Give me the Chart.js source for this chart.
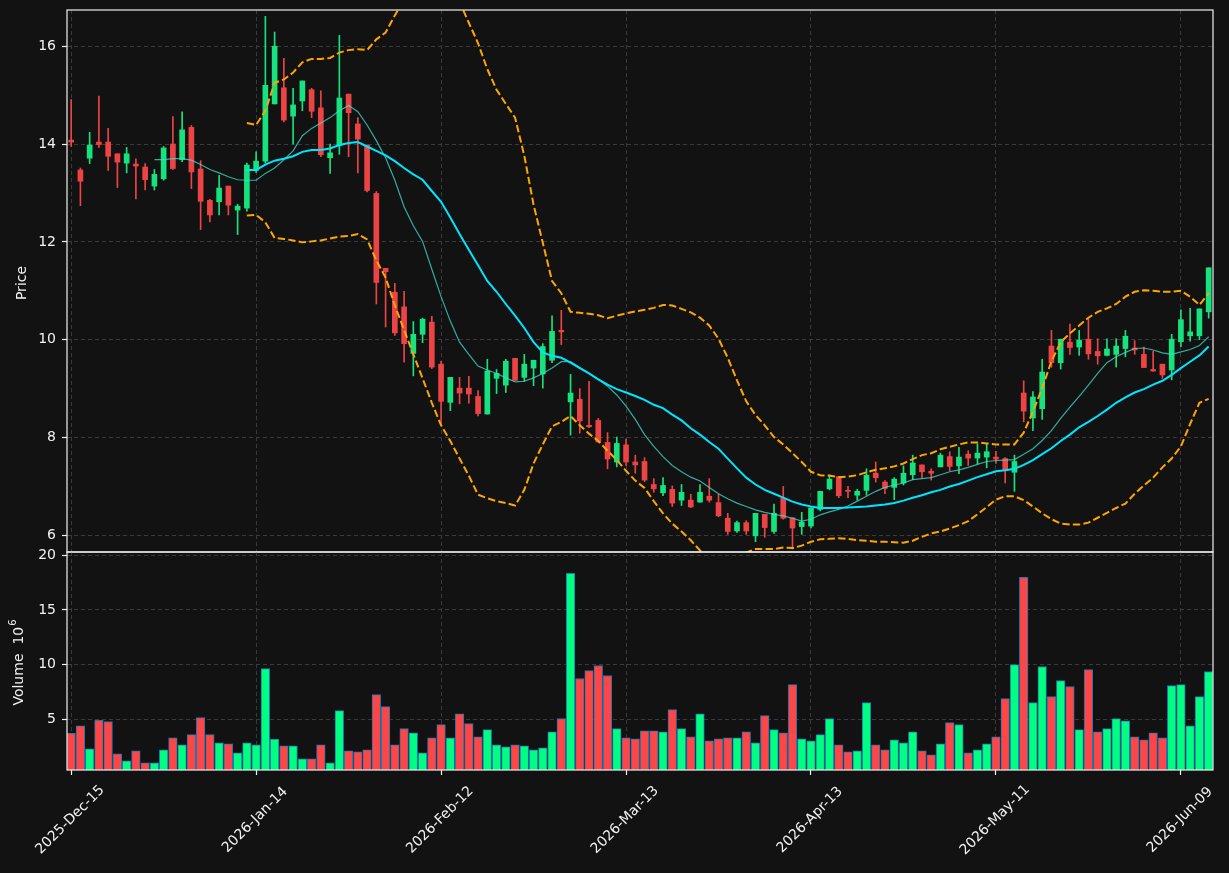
<!DOCTYPE html>
<html>
<head>
<meta charset="utf-8">
<title>Price / Volume</title>
<script src="https://cdn.jsdelivr.net/npm/chart.js@4.4.1/dist/chart.umd.min.js"></script>
<style>
  html, body { margin: 0; padding: 0; background: #121212; }
  #wrap { position: relative; width: 1229px; height: 873px; overflow: hidden; }
  #priceChart { position: absolute; left: 0; top: 0; }
  #volChart { position: absolute; left: 0; top: 545px; }
</style>
</head>
<body>
<div id="wrap">
  <canvas id="priceChart" width="1229" height="560"></canvas>
  <canvas id="volChart" width="1229" height="328"></canvas>
</div>
<script>
// ===== data =====
const opens = [14.08,13.47,13.71,14.04,14.04,13.80,13.61,13.59,13.53,13.14,13.29,14.00,13.68,14.34,13.49,12.85,12.82,13.14,12.65,12.69,
  13.46,13.65,14.82,15.15,14.57,14.88,15.11,14.74,13.72,13.97,15.02,14.41,13.98,12.99,11.46,10.97,10.67,9.72,10.11,10.36,
  9.50,8.72,9.01,9.01,8.84,8.48,9.21,9.07,9.62,9.23,9.42,9.30,9.58,10.19,8.73,8.78,8.25,8.35,7.90,7.50,
  7.85,7.50,7.51,7.04,6.87,6.94,6.72,6.72,6.68,6.80,6.67,6.35,6.09,6.26,5.99,6.43,6.08,6.76,6.36,6.18,
  6.19,6.53,6.95,7.20,6.92,6.82,6.92,7.27,7.09,6.98,7.07,7.24,7.44,7.31,7.40,7.61,7.42,7.66,7.58,7.60,
  7.60,7.57,7.29,8.91,8.40,8.59,9.87,9.53,9.95,9.85,10.01,9.76,9.68,9.70,9.82,9.83,9.70,9.39,9.50,9.38,
  9.96,10.08,10.08,10.57];
const highs = [14.91,13.51,14.24,14.98,14.32,13.80,13.93,13.70,13.60,13.48,13.95,14.56,14.66,14.38,13.66,12.87,13.36,13.14,12.77,13.61,
  13.84,16.61,16.29,15.75,15.14,15.29,15.14,15.09,14.00,16.22,15.02,14.54,13.98,13.03,11.46,11.15,10.99,10.37,10.44,10.48,
  9.56,9.23,9.23,9.25,8.96,9.60,9.39,9.60,9.62,9.70,9.58,9.92,10.49,10.60,9.29,9.00,9.15,8.39,8.10,8.01,
  7.97,7.64,7.59,7.16,7.18,7.01,7.04,6.84,7.04,7.16,6.84,6.45,6.29,6.30,6.45,6.43,6.64,7.00,6.36,6.47,
  6.56,6.90,7.24,7.20,7.00,6.94,7.36,7.50,7.12,7.18,7.42,7.64,7.44,7.36,7.68,7.71,7.80,7.73,7.87,7.87,
  7.72,7.59,7.64,9.16,8.94,9.60,10.19,10.01,10.32,10.19,10.42,10.02,10.02,10.02,10.19,9.98,9.85,9.76,9.50,10.11,
  10.61,10.64,10.63,11.47];
const lows = [13.95,12.74,13.60,13.93,13.46,13.11,13.41,12.88,13.06,13.06,13.26,13.48,13.64,13.09,12.25,12.41,12.55,12.55,12.15,12.63,
  13.42,13.61,14.82,14.45,14.00,14.68,14.54,13.74,13.40,13.79,13.74,13.41,13.02,10.73,10.26,10.09,9.54,9.26,9.94,9.41,
  8.28,8.55,8.69,8.70,8.44,8.48,8.90,8.92,9.17,9.15,9.06,9.01,9.53,9.90,8.05,8.09,8.20,7.90,7.36,7.40,
  7.43,7.27,7.10,6.88,6.81,6.59,6.61,6.57,6.68,6.68,6.38,6.02,6.06,6.02,5.87,5.96,6.04,6.33,5.72,6.02,
  6.15,6.50,6.93,6.77,6.77,6.72,6.82,7.09,6.85,6.73,7.03,7.14,7.17,7.13,7.40,7.32,7.26,7.43,7.46,7.38,
  7.47,7.07,6.90,8.32,8.14,8.37,9.44,9.40,9.70,9.68,9.60,9.50,9.67,9.44,9.65,9.70,9.43,9.35,9.21,9.18,
  9.86,9.97,10.00,10.44];
const closes = [14.04,13.24,13.98,13.99,13.75,13.63,13.80,13.55,13.27,13.38,13.92,13.50,14.29,13.43,12.83,12.55,13.10,12.75,12.73,13.57,
  13.65,15.20,16.00,14.49,14.80,15.29,14.67,13.78,13.82,14.94,14.64,14.10,13.05,11.17,11.39,10.14,9.92,10.11,10.42,9.44,
  8.74,9.23,8.91,8.89,8.49,9.36,9.31,9.56,9.17,9.50,9.58,9.86,10.17,10.16,8.91,8.34,8.22,7.91,7.56,7.88,
  7.50,7.44,7.13,6.95,7.02,6.66,6.88,6.58,6.88,6.72,6.40,6.08,6.26,6.09,6.45,6.16,6.45,6.35,6.15,6.27,
  6.56,6.90,7.15,6.81,6.90,6.90,7.23,7.18,6.96,7.15,7.27,7.48,7.30,7.27,7.64,7.41,7.60,7.58,7.68,7.71,
  7.56,7.34,7.51,8.54,8.83,9.34,9.53,10.01,9.84,9.99,9.71,9.67,9.81,9.87,10.07,9.79,9.43,9.36,9.28,10.01,
  10.41,10.16,10.63,11.47];
const volumes = [3.70,4.40,2.29,4.89,4.77,1.83,1.19,2.11,1.01,1.01,2.20,3.30,2.66,3.58,5.14,3.58,2.84,2.75,1.93,2.84,
  2.66,9.63,3.18,2.57,2.57,1.38,1.38,2.66,1.01,5.78,2.11,2.02,2.20,7.25,6.15,2.66,4.13,3.76,1.93,3.30,
  4.50,3.30,5.50,4.59,3.39,4.04,2.66,2.48,2.66,2.57,2.20,2.39,3.85,5.05,18.35,8.72,9.45,9.91,9.00,4.13,
  3.30,3.21,3.94,3.94,3.85,5.87,4.13,3.39,5.50,3.03,3.21,3.30,3.30,3.85,2.84,5.32,4.04,3.76,8.17,3.21,
  3.03,3.58,5.05,2.66,2.02,2.11,6.51,2.66,2.20,3.12,2.84,3.85,2.11,1.74,2.75,4.68,4.50,1.93,2.20,2.75,
  3.39,6.88,10.00,17.98,6.51,9.82,7.06,8.53,7.98,4.04,9.54,3.85,4.13,5.05,4.86,3.39,3.12,3.76,3.30,8.07,
  8.17,4.40,7.06,9.36];

// moving averages and bands (null = not drawn)
const ma10 = [null,null,null,null,null,null,null,null,null,13.68,13.68,13.70,13.70,13.67,13.58,13.48,13.41,13.33,13.27,13.26,
  13.26,13.40,13.51,13.68,13.86,14.17,14.32,14.43,14.54,14.68,14.79,14.66,14.39,14.07,13.72,13.26,12.72,12.33,12.01,11.44,
  10.88,10.38,9.95,9.70,9.46,9.38,9.31,9.22,9.14,9.15,9.22,9.31,9.42,9.55,9.55,9.43,9.31,9.19,9.05,8.87,
  8.64,8.37,8.06,7.82,7.61,7.43,7.30,7.19,7.11,6.98,6.85,6.75,6.66,6.59,6.52,6.47,6.43,6.40,6.35,6.29,
  6.33,6.42,6.48,6.53,6.60,6.70,6.80,6.90,6.98,7.03,7.07,7.14,7.16,7.18,7.24,7.30,7.34,7.39,7.45,7.51,
  7.53,7.54,7.55,7.66,7.77,7.94,8.14,8.39,8.62,8.84,9.07,9.31,9.53,9.65,9.74,9.82,9.83,9.79,9.73,9.70,
  9.75,9.80,9.88,10.06];
const ma20 = [null,null,null,null,null,null,null,null,null,null,null,null,null,null,null,null,null,null,null,13.47,
  13.47,13.58,13.66,13.70,13.75,13.84,13.88,13.88,13.91,13.98,14.02,14.04,13.95,13.86,13.77,13.65,13.51,13.38,13.27,13.04,
  12.82,12.50,12.16,11.84,11.52,11.20,10.98,10.73,10.49,10.24,9.95,9.74,9.67,9.63,9.53,9.42,9.31,9.19,9.08,8.99,
  8.92,8.85,8.77,8.67,8.60,8.47,8.35,8.19,8.06,7.91,7.77,7.57,7.37,7.18,7.04,6.93,6.85,6.77,6.69,6.63,
  6.59,6.56,6.56,6.56,6.57,6.58,6.59,6.61,6.63,6.66,6.71,6.77,6.82,6.88,6.93,7.00,7.05,7.12,7.19,7.25,
  7.31,7.33,7.36,7.44,7.54,7.66,7.78,7.93,8.06,8.21,8.32,8.44,8.57,8.71,8.82,8.92,8.99,9.08,9.16,9.28,
  9.42,9.55,9.68,9.86];
const bbUpper = [null,null,null,null,null,null,null,null,null,null,null,null,null,null,null,null,null,null,null,14.43,
  14.39,14.68,15.25,15.32,15.46,15.67,15.74,15.74,15.76,15.87,15.92,15.94,15.92,16.14,16.28,16.63,16.95,17.20,17.35,17.40,
  17.40,17.20,16.90,16.48,16.06,15.53,15.11,14.82,14.54,13.76,12.76,11.98,11.20,10.95,10.57,10.55,10.53,10.50,10.44,10.49,
  10.54,10.58,10.61,10.65,10.71,10.70,10.63,10.56,10.45,10.29,10.02,9.63,9.17,8.74,8.46,8.25,8.01,7.86,7.68,7.50,
  7.30,7.23,7.22,7.19,7.20,7.23,7.29,7.34,7.37,7.41,7.47,7.56,7.64,7.68,7.76,7.81,7.86,7.90,7.90,7.88,
  7.86,7.86,7.86,8.10,8.53,9.01,9.56,9.95,10.13,10.29,10.45,10.57,10.64,10.73,10.88,10.98,11.01,11.00,10.98,10.98,
  11.00,10.88,10.71,10.95];
const bbLower = [null,null,null,null,null,null,null,null,null,null,null,null,null,null,null,null,null,null,null,12.54,
  12.55,12.40,12.08,12.06,12.03,11.99,12.01,12.03,12.07,12.11,12.12,12.16,12.05,11.62,11.27,10.70,10.20,9.70,9.21,8.71,
  8.25,7.93,7.57,7.22,6.83,6.76,6.70,6.66,6.61,6.93,7.47,7.86,8.23,8.32,8.44,8.25,8.08,7.93,7.73,7.54,
  7.32,7.12,6.97,6.70,6.45,6.24,6.08,5.90,5.69,5.60,5.55,5.55,5.60,5.65,5.72,5.72,5.72,5.75,5.74,5.79,
  5.87,5.92,5.93,5.94,5.93,5.90,5.89,5.87,5.87,5.86,5.85,5.89,5.97,6.04,6.08,6.14,6.21,6.29,6.43,6.58,
  6.73,6.80,6.80,6.72,6.59,6.45,6.33,6.24,6.22,6.22,6.26,6.36,6.46,6.56,6.65,6.85,7.02,7.18,7.39,7.57,
  7.82,8.28,8.71,8.79];

const TICK_IDX = [0, 20, 40, 60, 80, 100, 120];
const TICK_LABELS = ['2025-Dec-15','2026-Jan-14','2026-Feb-12','2026-Mar-13','2026-Apr-13','2026-May-11','2026-Jun-09'];
const PRICE_TICKS = [6, 8, 10, 12, 14, 16];
const VOL_TICKS = [5, 10, 15, 20];

// ===== look =====
const FONT = "'DejaVu Sans', sans-serif";
const TEXT = '#f2f2f2';
const GRID = '#3a3a3a';
const DASH = [4, 3];
const C = {
  up: '#16e27e', down: '#ec4444',
  volUp: '#00ff80', volDown: '#ff4646', volEdge: '#1f77b4',
  ma10: 'rgba(64,224,208,0.75)', ma20: '#00e5ff', band: '#ffa500',
};
const X_MIN = -0.45, X_MAX = 123.47;

const isUp = i => closes[i] >= opens[i];
const pts = arr => arr.map((v, i) => ({ x: i, y: v }));

// white box around a plot area
const frame = {
  id: 'frame',
  afterDraw(chart) {
    const { ctx, chartArea: a } = chart;
    ctx.save();
    ctx.strokeStyle = '#f0f0f0';
    ctx.lineWidth = 1.2;
    ctx.strokeRect(a.left, a.top, a.right - a.left, a.bottom - a.top);
    ctx.restore();
  }
};

// vertical axis title, optional superscript
function drawVTitle(ctx, x, y, text, sup) {
  ctx.save();
  ctx.fillStyle = TEXT;
  ctx.translate(x, y);
  ctx.rotate(-Math.PI / 2);
  ctx.textBaseline = 'middle';
  ctx.textAlign = 'left';
  ctx.font = '14px ' + FONT;
  const w1 = ctx.measureText(text).width;
  let w2 = 0;
  if (sup) { ctx.font = '10px ' + FONT; w2 = ctx.measureText(sup).width; }
  const start = -(w1 + w2) / 2;
  ctx.font = '14px ' + FONT;
  ctx.fillText(text, start, 0);
  if (sup) { ctx.font = '10px ' + FONT; ctx.fillText(sup, start + w1 + 1, -6); }
  ctx.restore();
}

function xAxis(tickMarks) {
  return {
    type: 'linear', min: X_MIN, max: X_MAX, offset: false,
    afterBuildTicks: s => { s.ticks = TICK_IDX.map(v => ({ value: v })); },
    afterFit: s => { s.height = 0; s.paddingLeft = 0; s.paddingRight = 0; },
    ticks: { display: false },
    grid: { offset: false, color: GRID, drawTicks: tickMarks, tickLength: 5, tickColor: '#f0f0f0', tickWidth: 1.2 },
    border: { display: false, dash: DASH },
  };
}

function yAxis(min, max, ticks) {
  return {
    min, max,
    afterBuildTicks: s => { s.ticks = ticks.map(v => ({ value: v })); },
    afterFit: s => { s.width = 67; s.paddingTop = 0; s.paddingBottom = 0; },
    ticks: { color: TEXT, font: { family: FONT, size: 14 }, padding: 6, callback: v => v },
    grid: { color: GRID, tickLength: 5, tickColor: '#f0f0f0', tickWidth: 1.2 },
    border: { display: false, dash: DASH },
  };
}

// ===== price panel =====
function initPrice() {
  const ctx = document.getElementById('priceChart');
  const cols = closes.map((_, i) => isUp(i) ? C.up : C.down);

  new Chart(ctx, {
    type: 'bar',
    data: {
      datasets: [
        { type: 'line', label: 'BB upper', data: pts(bbUpper), borderColor: C.band, borderWidth: 2,
          borderDash: [7.4, 3.2], pointRadius: 0, tension: 0, order: 1 },
        { type: 'line', label: 'BB lower', data: pts(bbLower), borderColor: C.band, borderWidth: 2,
          borderDash: [7.4, 3.2], pointRadius: 0, tension: 0, order: 1 },
        { type: 'line', label: 'MA20', data: pts(ma20), borderColor: C.ma20, borderWidth: 2,
          pointRadius: 0, tension: 0, order: 2 },
        { type: 'line', label: 'MA10', data: pts(ma10), borderColor: C.ma10, borderWidth: 1.2,
          pointRadius: 0, tension: 0, order: 3 },
        { label: 'body', data: closes.map((c, i) => ({ x: i, y: [opens[i], c] })),
          backgroundColor: cols, barThickness: 5, minBarLength: 1, grouped: false, order: 4 },
        { label: 'wick', data: closes.map((_, i) => ({ x: i, y: [lows[i], highs[i]] })),
          backgroundColor: cols, barThickness: 1, grouped: false, order: 5 },
      ]
    },
    options: {
      responsive: false,
      animation: false,
      devicePixelRatio: 1,
      layout: { padding: { left: 0, right: 16, top: 10, bottom: 8 } },
      plugins: { legend: { display: false }, tooltip: { enabled: false } },
      scales: {
        x: xAxis(false),
        y: yAxis(5.66, 16.74, PRICE_TICKS),
      }
    },
    plugins: [frame, {
      id: 'priceTitle',
      afterDraw(chart) { drawVTitle(chart.ctx, 22, 283, 'Price'); }
    }]
  });
}

// ===== volume panel =====
function initVolume() {
  const ctx = document.getElementById('volChart');

  new Chart(ctx, {
    type: 'bar',
    data: {
      datasets: [{
        label: 'Volume',
        data: volumes.map((v, i) => ({ x: i, y: v })),
        backgroundColor: volumes.map((_, i) => isUp(i) ? C.volUp : C.volDown),
        borderColor: C.volEdge,
        borderWidth: 1,
        borderSkipped: false,
        barThickness: 8.6,
      }]
    },
    options: {
      responsive: false,
      animation: false,
      devicePixelRatio: 1,
      layout: { padding: { left: 0, right: 16, top: 7, bottom: 103 } },
      plugins: { legend: { display: false }, tooltip: { enabled: false } },
      scales: {
        x: xAxis(true),
        y: yAxis(0.35, 20.3, VOL_TICKS),
      }
    },
    plugins: [frame, {
      id: 'volText',
      afterDraw(chart) {
        const c = chart.ctx;
        drawVTitle(c, 19, 118, 'Volume  10', '6');
        // rotated date labels, centred under each tick
        const xs = chart.scales.x;
        c.save();
        c.fillStyle = TEXT;
        c.font = '14px ' + FONT;
        c.textAlign = 'center';
        c.textBaseline = 'middle';
        TICK_IDX.forEach((v, k) => {
          c.save();
          c.translate(xs.getPixelForValue(v) - 1, 275);
          c.rotate(-Math.PI / 4);
          c.fillText(TICK_LABELS[k], 0, 0);
          c.restore();
        });
        c.restore();
      }
    }]
  });
}

document.addEventListener('DOMContentLoaded', () => {
  initPrice();
  initVolume();
});
</script>
</body>
</html>
